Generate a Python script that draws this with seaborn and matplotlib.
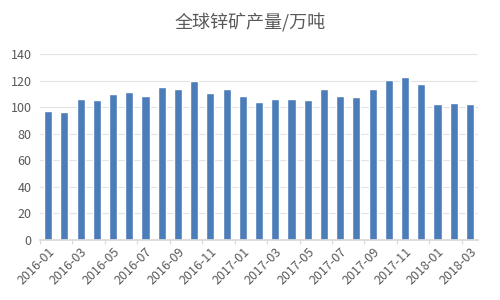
import matplotlib
matplotlib.use("Agg")
import matplotlib.pyplot as plt
import seaborn as sns
import pandas as pd

months = ["2016-01","2016-02","2016-03","2016-04","2016-05","2016-06","2016-07","2016-08","2016-09",
          "2016-10","2016-11","2016-12","2017-01","2017-02","2017-03","2017-04","2017-05","2017-06",
          "2017-07","2017-08","2017-09","2017-10","2017-11","2017-12","2018-01","2018-02","2018-03"]
values = [97.3, 96.6, 105.9, 105.4, 109.6, 111.4, 108.4, 115.2, 113.9,
          119.9, 110.4, 113.9, 108.4, 103.9, 106.4, 105.9, 105.1, 113.9,
          108.1, 107.6, 113.4, 120.7, 122.9, 117.7, 102.1, 103.4, 102.1]
yticks = [0, 20, 40, 60, 80, 100, 120, 140]
title = "全球锌矿产量/万吨"

sns.set_theme(style="white")
plt.rcParams['font.family'] = ['Noto Sans CJK SC', 'DejaVu Sans']

df = pd.DataFrame({"month": months, "value": values})
fig = plt.figure(figsize=(5, 3), dpi=100)
ax = fig.add_axes([0.08, 0.2, 0.876, 0.62])
sns.barplot(data=df, x="month", y="value", color="#4C7DB9", saturation=1, width=0.5, ax=ax)
ax.set_ylim(0, 140)
ax.set_xlim(-0.5, len(months) - 0.5)
ax.set_yticks(yticks)
ax.yaxis.grid(True, color="#E3E3E3", linewidth=0.8)
ax.set_axisbelow(True)
for s in ["top", "right", "left"]:
    ax.spines[s].set_visible(False)
ax.spines["bottom"].set_color("#D9D9D9")
ax.set_xlabel("")
ax.set_ylabel("")
pos = list(range(0, len(months), 2))
ax.set_xticks(pos)
ax.set_xticklabels([months[i] for i in pos], rotation=45, ha="right", rotation_mode="anchor",
                   fontsize=9, color="#595959")
ax.set_xticks([p - 0.5 for p in range(0, len(months) + 1, 2)], minor=True)
ax.tick_params(axis="x", which="major", length=0, pad=4)
ax.tick_params(axis="x", which="minor", length=3, color="#D9D9D9", width=0.8, direction="out", bottom=True)
ax.tick_params(axis="y", length=0, labelsize=9, labelcolor="#595959", pad=6)
fig.text(0.5, 0.925, title, ha="center", va="center", fontsize=13, color="#595959")
fig.savefig("out.png", dpi=100, facecolor="white")
